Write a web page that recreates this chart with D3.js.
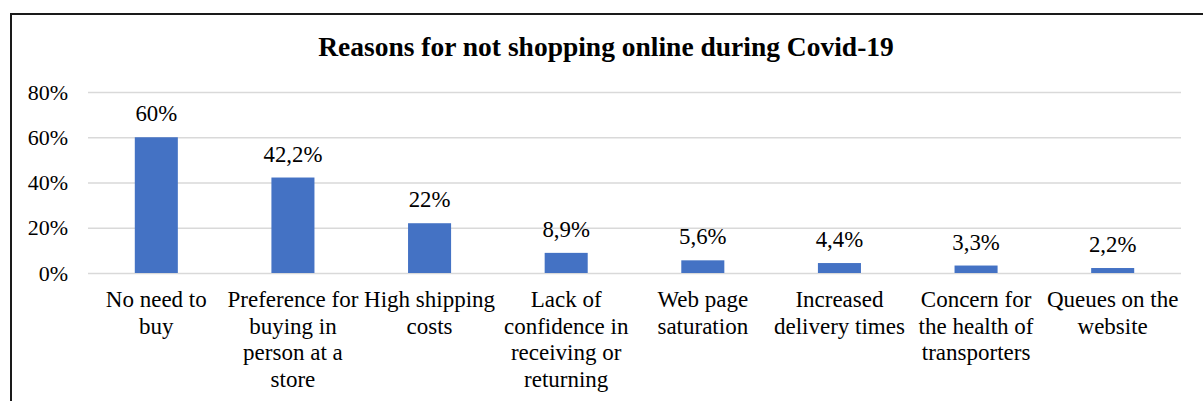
<!DOCTYPE html>
<html>
<head>
<meta charset="utf-8">
<script src="https://cdn.jsdelivr.net/npm/d3@7"></script>
<style>
  html, body { margin: 0; padding: 0; background: #fff; }
  svg { display: block; }
  text { font-family: "Liberation Serif", "Times New Roman", serif; fill: #000; }
</style>
</head>
<body>
<svg id="chart" width="1203" height="401"></svg>
<script>
// Survey answers: reasons given for not shopping online during Covid-19
const categories = [
  "No need to\nbuy",
  "Preference for\nbuying in\nperson at a\nstore",
  "High shipping\ncosts",
  "Lack of\nconfidence in\nreceiving or\nreturning",
  "Web page\nsaturation",
  "Increased\ndelivery times",
  "Concern for\nthe health of\ntransporters",
  "Queues on the\nwebsite"
];
const values = [60, 42.2, 22, 8.9, 5.6, 4.4, 3.3, 2.2];
const valueLabels = ["60%", "42,2%", "22%", "8,9%", "5,6%", "4,4%", "3,3%", "2,2%"];
const yTicks = [0, 20, 40, 60, 80];
const title = "Reasons for not shopping online during Covid-19";

const serif = "'Liberation Serif', 'Times New Roman', serif";
const svg = d3.select("#chart");

// chart frame
svg.append("path")
  .attr("d", "M11,402 L11,14 L1204,14")
  .attr("fill", "none")
  .attr("stroke", "#1a1a1a")
  .attr("stroke-width", 2);

const plot = { left: 88, right: 1181, top: 92, bottom: 273 };

const x = d3.scaleBand()
  .domain(categories)
  .range([plot.left, plot.right])
  .paddingInner(0.685)
  .paddingOuter(0.3425);

const y = d3.scaleLinear()
  .domain([0, 80])
  .range([plot.bottom, plot.top]);

// title
svg.append("text")
  .attr("x", 606)
  .attr("y", 56)
  .attr("text-anchor", "middle")
  .style("font-family", serif)
  .style("font-size", "27.5px")
  .style("font-weight", "bold")
  .text(title);

// gridlines
svg.append("g")
  .selectAll("line")
  .data(yTicks)
  .join("line")
  .attr("x1", plot.left)
  .attr("x2", plot.right)
  .attr("y1", d => y(d) + 0.5)
  .attr("y2", d => y(d) + 0.5)
  .attr("stroke", "#d9d9d9")
  .attr("stroke-width", 1.5);

// y axis labels
const yAxis = d3.axisLeft(y)
  .tickValues(yTicks)
  .tickFormat(d => d + "%")
  .tickSize(0)
  .tickPadding(20);

const yg = svg.append("g")
  .attr("transform", `translate(${plot.left},0)`)
  .call(yAxis);
yg.select(".domain").remove();
yg.selectAll("text")
  .style("font-size", "22px")
  .style("font-family", serif)
  .attr("fill", "#000");

// bars
svg.append("g")
  .selectAll("rect")
  .data(values)
  .join("rect")
  .attr("x", (d, i) => x(categories[i]))
  .attr("width", x.bandwidth())
  .attr("y", d => y(d))
  .attr("height", d => y(0) - y(d))
  .attr("fill", "#4472C4");

// value labels
svg.append("g")
  .selectAll("text")
  .data(values)
  .join("text")
  .attr("x", (d, i) => x(categories[i]) + x.bandwidth() / 2)
  .attr("y", d => y(d) - 16)
  .attr("text-anchor", "middle")
  .style("font-family", serif)
  .style("font-size", "22.8px")
  .text((d, i) => valueLabels[i]);

// category labels, one tspan per line
const cat = svg.append("g")
  .selectAll("text")
  .data(categories)
  .join("text")
  .attr("x", d => x(d) + x.bandwidth() / 2)
  .attr("y", plot.bottom + 34)
  .attr("text-anchor", "middle")
  .style("font-family", serif)
  .style("font-size", "23px");

cat.selectAll("tspan")
  .data(d => d.split("\n").map(line => ({ line, cx: x(d) + x.bandwidth() / 2 })))
  .join("tspan")
  .attr("x", d => d.cx)
  .attr("dy", (d, i) => i === 0 ? 0 : 26.5)
  .text(d => d.line);
</script>
</body>
</html>
